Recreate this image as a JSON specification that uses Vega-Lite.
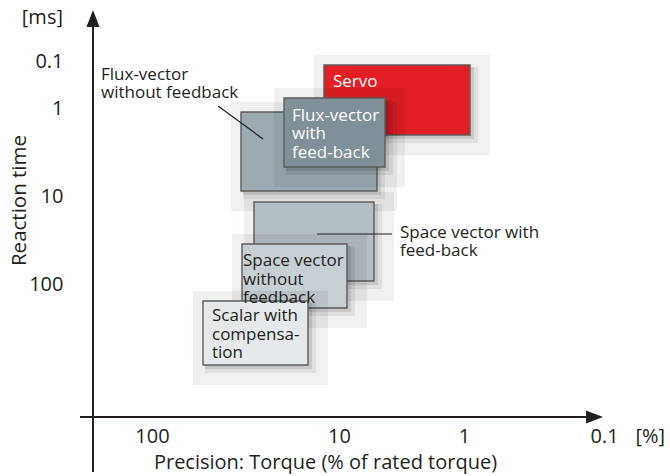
{
  "$schema": "https://vega.github.io/schema/vega-lite/v6.json",
  "width": 577,
  "height": 417,
  "autosize": "none",
  "padding": {"left": 93, "top": 0, "right": 0, "bottom": 59},
  "background": "white",
  "config": {"view": {"stroke": null}, "font": "Open Sans"},
  "datasets": {
    "boxes": [
      {"name": "Servo", "x": 12.03, "x2": 0.906, "y": 0.1216, "y2": 2.027},
      {"name": "Flux-vector without feedback", "x": 33.43, "x2": 4.966, "y": 1.11, "y2": 8.775},
      {"name": "Flux-vector with feedback", "x": 19.68, "x2": 4.285, "y": 0.6127, "y2": 4.682},
      {"name": "Space vector with feedback", "x": 28.48, "x2": 5.248, "y": 11.7, "y2": 92.45},
      {"name": "Space vector without feedback", "x": 33.01, "x2": 8.63, "y": 35.12, "y2": 187.4},
      {"name": "Scalar with compensation", "x": 53.38, "x2": 14.65, "y": 156.1, "y2": 832.6}
    ],
    "texts": [
      {"kind": "box", "name": "Servo", "x": 10.77, "y": 0.3574, "text": ["Servo"]},
      {"kind": "box", "name": "Flux-vector with feedback", "x": 17.84, "y": 1.405, "text": ["Flux-vector", "with", "feed-back"]},
      {"kind": "box", "name": "Space vector without feedback", "x": 32.61, "y": 62.46, "text": ["Space vector", "without", "feedback"]},
      {"kind": "box", "name": "Scalar with compensation", "x": 47.77, "y": 263.4, "text": ["Scalar with", "compensa-", "tion"]},
      {"kind": "label", "name": "Flux-vector without feedback", "x": 187.4, "y": 0.2537, "text": ["Flux-vector", "without feedback"]},
      {"kind": "label", "name": "Space vector with feedback", "x": 3.251, "y": 30.0, "text": ["Space vector with", "feed-back"]}
    ],
    "leaders": [
      {"x": 44.36, "x2": 25.49, "y": 0.9066, "y2": 2.25},
      {"x": 13.11, "x2": 3.767, "y": 27.03, "y2": 27.03}
    ],
    "axislines": [
      {"x": 242.7, "x2": 0.11, "y": 3245, "y2": 3245},
      {"x": 206.8, "x2": 206.8, "y": 0.01, "y2": 13680}
    ],
    "arrows": [
      {"dir": "up", "x": 206.8, "y": 0.00822},
      {"dir": "right", "x": 0.1016, "y": 3245}
    ],
    "units": [
      {"text": "[ms]", "x": 299.3, "y": 0.01633},
      {"text": "[%]", "x": 0.03666, "y": 6412}
    ]
  },
  "encoding": {
    "x": {
      "field": "x", "type": "quantitative",
      "scale": {"type": "log", "domain": [0.1, 1, 10, 100], "range": [511, 371, 246, 59], "nice": false, "zero": false},
      "axis": {
        "values": [100, 10, 1, 0.1], "format": "~g", "title": "Precision: Torque (% of rated torque)",
        "domain": false, "ticks": false, "grid": false, "labelFlush": false, "labelOverlap": false,
        "labelFontSize": 20, "labelColor": "#231f20", "labelFont": "Open Sans", "labelBaseline": "alphabetic", "labelPadding": 25,
        "titleFontSize": 20, "titleFontWeight": "normal", "titleColor": "#231f20", "titleFont": "Open Sans",
        "titleX": 232, "titleY": 51, "titleBaseline": "alphabetic", "titleAlign": "center"
      }
    },
    "y": {
      "field": "y", "type": "quantitative",
      "scale": {"type": "log", "domain": [0.1, 1, 10, 100], "range": [61, 108, 196, 284], "nice": false, "zero": false},
      "axis": {
        "values": [0.1, 1, 10, 100], "format": "~g", "title": "Reaction time",
        "domain": false, "ticks": false, "grid": false, "labelFlush": false, "labelOverlap": false,
        "labelFontSize": 20, "labelColor": "#231f20", "labelFont": "Open Sans", "labelPadding": 30,
        "titleFontSize": 20.5, "titleFontWeight": "normal", "titleColor": "#231f20", "titleFont": "Open Sans",
        "titleX": -68, "titleY": 200, "titleAngle": 270, "titleBaseline": "alphabetic", "titleAlign": "center"
      }
    }
  },
  "layer": [
    {
      "data": {"name": "boxes"},
      "transform": [{"filter": "datum.name == 'Servo'"}],
      "encoding": {"x2": {"field": "x2"}, "y2": {"field": "y2"}},
      "layer": [
        {"mark": {"type": "rect", "fill": "#000", "opacity": 0.06, "xOffset": -10, "x2Offset": 20, "yOffset": -10, "y2Offset": 20}},
        {"mark": {"type": "rect", "fill": "#000", "opacity": 0.07, "xOffset": 2, "x2Offset": 8, "yOffset": 2, "y2Offset": 8}},
        {"mark": {"type": "rect", "fill": "#000", "opacity": 0.1, "xOffset": 2, "x2Offset": 4, "yOffset": 2, "y2Offset": 4}},
        {"mark": {"type": "rect", "stroke": "#5c5c5c", "strokeWidth": 1.4},
         "encoding": {"fill": {"field": "name", "type": "nominal", "legend": null,
           "scale": {"domain": ["Servo", "Flux-vector without feedback", "Flux-vector with feedback", "Space vector with feedback", "Space vector without feedback", "Scalar with compensation"],
                     "range": ["#e31e24", "#9cabb2", "#7f9099", "#b3bec4", "#c6cfd4", "#e5e9eb"]}}}}
      ]
    },
    {
      "data": {"name": "boxes"},
      "transform": [{"filter": "datum.name == 'Flux-vector without feedback'"}],
      "encoding": {"x2": {"field": "x2"}, "y2": {"field": "y2"}},
      "layer": [
        {"mark": {"type": "rect", "fill": "#000", "opacity": 0.06, "xOffset": -10, "x2Offset": 20, "yOffset": -10, "y2Offset": 20}},
        {"mark": {"type": "rect", "fill": "#000", "opacity": 0.07, "xOffset": 2, "x2Offset": 8, "yOffset": 2, "y2Offset": 8}},
        {"mark": {"type": "rect", "fill": "#000", "opacity": 0.1, "xOffset": 2, "x2Offset": 4, "yOffset": 2, "y2Offset": 4}},
        {"mark": {"type": "rect", "stroke": "#5c5c5c", "strokeWidth": 1.4},
         "encoding": {"fill": {"field": "name", "type": "nominal", "legend": null}}}
      ]
    },
    {
      "data": {"name": "boxes"},
      "transform": [{"filter": "datum.name == 'Flux-vector with feedback'"}],
      "encoding": {"x2": {"field": "x2"}, "y2": {"field": "y2"}},
      "layer": [
        {"mark": {"type": "rect", "fill": "#000", "opacity": 0.06, "xOffset": -10, "x2Offset": 20, "yOffset": -10, "y2Offset": 20}},
        {"mark": {"type": "rect", "fill": "#000", "opacity": 0.07, "xOffset": 2, "x2Offset": 8, "yOffset": 2, "y2Offset": 8}},
        {"mark": {"type": "rect", "fill": "#000", "opacity": 0.1, "xOffset": 2, "x2Offset": 4, "yOffset": 2, "y2Offset": 4}},
        {"mark": {"type": "rect", "stroke": "#5c5c5c", "strokeWidth": 1.4},
         "encoding": {"fill": {"field": "name", "type": "nominal", "legend": null}}}
      ]
    },
    {
      "data": {"name": "boxes"},
      "transform": [{"filter": "datum.name == 'Space vector with feedback'"}],
      "encoding": {"x2": {"field": "x2"}, "y2": {"field": "y2"}},
      "layer": [
        {"mark": {"type": "rect", "fill": "#000", "opacity": 0.06, "xOffset": -10, "x2Offset": 20, "yOffset": -10, "y2Offset": 20}},
        {"mark": {"type": "rect", "fill": "#000", "opacity": 0.07, "xOffset": 2, "x2Offset": 8, "yOffset": 2, "y2Offset": 8}},
        {"mark": {"type": "rect", "fill": "#000", "opacity": 0.1, "xOffset": 2, "x2Offset": 4, "yOffset": 2, "y2Offset": 4}},
        {"mark": {"type": "rect", "stroke": "#5c5c5c", "strokeWidth": 1.4},
         "encoding": {"fill": {"field": "name", "type": "nominal", "legend": null}}}
      ]
    },
    {
      "data": {"name": "boxes"},
      "transform": [{"filter": "datum.name == 'Space vector without feedback'"}],
      "encoding": {"x2": {"field": "x2"}, "y2": {"field": "y2"}},
      "layer": [
        {"mark": {"type": "rect", "fill": "#000", "opacity": 0.06, "xOffset": -10, "x2Offset": 20, "yOffset": -10, "y2Offset": 20}},
        {"mark": {"type": "rect", "fill": "#000", "opacity": 0.07, "xOffset": 2, "x2Offset": 8, "yOffset": 2, "y2Offset": 8}},
        {"mark": {"type": "rect", "fill": "#000", "opacity": 0.1, "xOffset": 2, "x2Offset": 4, "yOffset": 2, "y2Offset": 4}},
        {"mark": {"type": "rect", "stroke": "#5c5c5c", "strokeWidth": 1.4},
         "encoding": {"fill": {"field": "name", "type": "nominal", "legend": null}}}
      ]
    },
    {
      "data": {"name": "boxes"},
      "transform": [{"filter": "datum.name == 'Scalar with compensation'"}],
      "encoding": {"x2": {"field": "x2"}, "y2": {"field": "y2"}},
      "layer": [
        {"mark": {"type": "rect", "fill": "#000", "opacity": 0.06, "xOffset": -10, "x2Offset": 20, "yOffset": -10, "y2Offset": 20}},
        {"mark": {"type": "rect", "fill": "#000", "opacity": 0.07, "xOffset": 2, "x2Offset": 8, "yOffset": 2, "y2Offset": 8}},
        {"mark": {"type": "rect", "fill": "#000", "opacity": 0.1, "xOffset": 2, "x2Offset": 4, "yOffset": 2, "y2Offset": 4}},
        {"mark": {"type": "rect", "stroke": "#5c5c5c", "strokeWidth": 1.4},
         "encoding": {"fill": {"field": "name", "type": "nominal", "legend": null}}}
      ]
    },
    {
      "data": {"name": "leaders"},
      "mark": {"type": "rule", "color": "#231f20", "strokeWidth": 1.2},
      "encoding": {"x2": {"field": "x2"}, "y2": {"field": "y2"}}
    },
    {
      "data": {"name": "axislines"},
      "mark": {"type": "rule", "color": "#231f20", "strokeWidth": 2},
      "encoding": {"x2": {"field": "x2"}, "y2": {"field": "y2"}}
    },
    {
      "data": {"name": "arrows"},
      "mark": {"type": "point", "filled": true, "size": 100, "opacity": 1, "color": "#231f20", "strokeWidth": 0},
      "encoding": {
        "shape": {"field": "dir", "type": "nominal", "legend": null,
          "scale": {"domain": ["up", "right"], "range": ["M0,0L1.3,3.4L-1.3,3.4Z", "M0,0L-3.4,-1.3L-3.4,1.3Z"]}}
      }
    },
    {
      "data": {"name": "texts"},
      "transform": [{"filter": "datum.kind == 'box'"}],
      "mark": {"type": "text", "align": "left", "baseline": "alphabetic", "fontSize": 17, "lineHeight": 18.5, "font": "Open Sans"},
      "encoding": {
        "text": {"field": "text"},
        "color": {"condition": {"test": "datum.name == 'Servo' || datum.name == 'Flux-vector with feedback'", "value": "#ffffff"}, "value": "#231f20"}
      }
    },
    {
      "data": {"name": "texts"},
      "transform": [{"filter": "datum.kind == 'label'"}],
      "mark": {"type": "text", "align": "left", "baseline": "alphabetic", "fontSize": 17, "lineHeight": 18, "font": "Open Sans", "color": "#231f20"},
      "encoding": {"text": {"field": "text"}}
    },
    {
      "data": {"name": "units"},
      "mark": {"type": "text", "align": "right", "baseline": "alphabetic", "fontSize": 20, "font": "Open Sans", "color": "#231f20"},
      "encoding": {"text": {"field": "text"}}
    }
  ]
}
